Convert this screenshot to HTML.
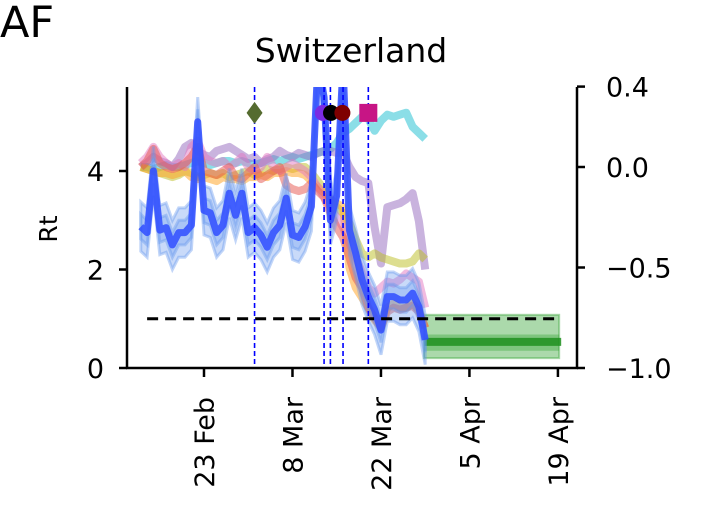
<!DOCTYPE html>
<html><head><meta charset="utf-8"><style>
html,body{margin:0;padding:0;background:#fff;}
svg{display:block;font-family:"DejaVu Sans","Liberation Sans",sans-serif;}
</style></head><body>
<svg id="chart" width="708" height="531" viewBox="0 0 708 531">
<defs><clipPath id="plotclip"><rect x="127" y="87" width="450" height="281"/></clipPath></defs>
<text x="0" y="37" font-size="43">AF</text>
<text x="351" y="62" font-size="33" text-anchor="middle">Switzerland</text>
<text transform="translate(57,229) rotate(-90)" font-size="25" text-anchor="middle">Rt</text>
<g id="marks" clip-path="url(#plotclip)"></g>
<g id="axes"></g>
</svg>
<script>
// days relative to 23 Feb
const startDay = -10;
const rtMean = [2.87,2.75,4.0,2.8,2.85,2.5,2.75,2.75,2.9,5.0,3.2,3.15,2.75,2.9,3.55,3.1,3.55,2.75,2.85,2.7,2.45,2.75,2.9,3.45,2.7,2.65,2.87,3.28,6.2,5.5,3.0,3.5,6.2,2.8,2.33,1.79,1.45,1.18,0.77,1.45,1.45,1.38,1.38,1.52,1.24,0.57];
const cyanSeries = [0.0,0.0,-0.01,0.0,0.01,0.0,0.0,0.01,0.02,0.03,0.02,0.01,0.02,0.03,0.03,0.02,0.03,0.02,0.01,0.02,0.03,0.04,0.03,0.04,0.05,0.04,0.05,0.06,0.07,0.08,0.09,0.12,0.17,0.19,0.22,0.25,0.24,0.18,0.23,0.26,0.25,0.26,0.27,0.20,0.17,0.14];
const purpleSeries = [0.0,0.02,0.05,0.03,0.02,0.0,0.04,0.1,0.12,0.08,0.06,0.05,0.08,0.09,0.1,0.08,0.06,0.04,0.05,0.02,0.04,0.05,0.08,0.06,0.05,0.07,0.06,0.05,0.07,0.08,0.08,0.07,0.07,0.0,-0.05,-0.07,-0.08,-0.3,-0.48,-0.2,-0.19,-0.18,-0.16,-0.13,-0.27,-0.51];
const yellowSeries = [0.0,-0.01,-0.02,-0.03,-0.04,-0.05,-0.04,-0.02,-0.03,-0.05,-0.04,-0.03,-0.04,-0.03,-0.05,-0.04,-0.03,-0.02,-0.04,-0.03,-0.01,-0.02,-0.01,0.0,-0.01,0.0,0.0,-0.03,-0.07,-0.11,-0.16,-0.2,-0.23,-0.28,-0.36,-0.43,-0.45,-0.43,-0.45,-0.46,-0.47,-0.48,-0.48,-0.47,-0.43,-0.46];
const orangeSeries = [0.0,-0.01,-0.02,-0.03,-0.03,-0.04,-0.03,-0.02,-0.05,-0.06,-0.05,-0.06,-0.07,-0.05,-0.06,-0.06,-0.07,-0.05,-0.05,-0.04,-0.05,-0.03,-0.03,-0.02,-0.03,-0.03,-0.04,-0.07,-0.1,-0.13,-0.16,-0.18,-0.2,-0.5,-0.6,-0.65,-0.7,-0.76,-0.8,-0.7,-0.68,-0.7,-0.7,-0.68,-0.71,-0.8];
const pinkSeries = [0.02,0.05,0.1,0.05,0.02,0.0,0.02,0.0,0.1,0.13,0.05,0.03,0.02,0.03,0.0,0.02,0.05,0.0,-0.02,0.0,0.05,0.0,-0.02,0.0,0.02,0.0,-0.02,-0.05,-0.1,-0.15,-0.2,-0.25,-0.3,-0.38,-0.45,-0.52,-0.6,-0.63,-0.6,-0.57,-0.58,-0.56,-0.53,-0.55,-0.57,-0.7];
const redSeries = [0.0,0.03,0.09,0.02,0.0,-0.01,0.0,0.02,0.05,0.1,-0.02,-0.03,-0.04,-0.02,0.0,-0.05,-0.06,-0.03,0.0,-0.06,-0.04,-0.02,0.0,-0.09,-0.11,-0.12,-0.11,-0.08,-0.12,-0.15,-0.23,-0.3,-0.35,-0.45,-0.55,-0.6,-0.7,-0.75,-0.8,-0.72,-0.7,-0.71,-0.7,-0.69,-0.72,-0.8];
const interventionDays = [8,19,20,22,26];
const markerDays = [8,18.8,20.1,21.9,26];
const markerColors = ['#556b2f','#7b2be2','#000000','#7f0000','#c71585'];
const markerValue = 5.18;
const forecastStart = 34.8, forecastEnd = 56.2;
const forecastMean = 0.53, forecastInner = [0.35,0.68], forecastOuter = [0.2,1.08];
const thresholdValue = 1;
const thresholdRange = [-9, 56];
const leftTicks = [0,2,4];
const rightTicks = [0.4,0.0,-0.5,-1.0];
const rightTickLabels = ['0.4','0.0','\u22120.5','\u22121.0'];
const xTickDays = [0,14,28,42,56];
const xTickLabels = ['23 Feb','8 Mar','22 Mar','5 Apr','19 Apr'];

const X = d => 204 + 6.32*d;
const YL = v => 368 - 49.25*v;
const YR = v => 167 - 201*v;
const NS = 'http://www.w3.org/2000/svg';
const marks = document.getElementById('marks');
const axes = document.getElementById('axes');
function mk(tag, attrs, parent){const e=document.createElementNS(NS,tag);for(const k in attrs)e.setAttribute(k,attrs[k]);parent.appendChild(e);return e;}
function pathOf(arr, yf){return arr.map((v,i)=>(i?'L':'M')+X(startDay+i).toFixed(1)+','+yf(v).toFixed(1)).join('');}
function bandOf(arr, yf, w){
  let up=arr.map((v,i)=>(i?'L':'M')+X(startDay+i).toFixed(1)+','+yf(v+w).toFixed(1)).join('');
  let dn=arr.slice().reverse().map((v,j)=>'L'+X(startDay+arr.length-1-j).toFixed(1)+','+yf(Math.max(0,v-w)).toFixed(1)).join('');
  return up+dn+'Z';
}
let e;
e=mk('rect',{x:X(forecastStart),y:YL(forecastOuter[1]),width:X(forecastEnd)-X(forecastStart),height:YL(forecastOuter[0])-YL(forecastOuter[1]),fill:'#2ca02c','fill-opacity':0.4,stroke:'#2ca02c','stroke-opacity':0.4,'stroke-width':2},marks);


e=mk('rect',{x:X(forecastStart),y:YL(forecastInner[1]),width:X(forecastEnd)-X(forecastStart),height:YL(forecastInner[0])-YL(forecastInner[1]),fill:'#2ca02c','fill-opacity':0.35},marks);


e=mk('line',{x1:X(forecastStart),x2:X(forecastEnd)+2,y1:YL(forecastMean),y2:YL(forecastMean),stroke:'#1f8f1f','stroke-width':8,'stroke-opacity':0.85},marks);


const rs=[['cyan',cyanSeries,'#17becf'],['purple',purpleSeries,'#9467bd'],['yellow',yellowSeries,'#bcbd22'],['orange',orangeSeries,'#ff9f1c'],['pink',pinkSeries,'#e377c2'],['red',redSeries,'#e5534b']];
rs.forEach(([n,arr,c])=>{
  const p=mk('path',{d:pathOf(arr,YR),fill:'none',stroke:c,'stroke-width':8,'stroke-opacity':0.5,'stroke-linejoin':'round'},marks);
  
  
});
e=mk('path',{d:bandOf(rtMean,YL,0.5),fill:'#6495ed','fill-opacity':0.35,stroke:'#6495ed','stroke-opacity':0.4,'stroke-width':3},marks);


e=mk('path',{d:bandOf(rtMean,YL,0.25),fill:'#6495ed','fill-opacity':0.3,stroke:'#6495ed','stroke-opacity':0.4,'stroke-width':3},marks);


e=mk('path',{d:pathOf(rtMean,YL),fill:'none',stroke:'#2f4cff','stroke-width':7,'stroke-opacity':0.85,'stroke-linejoin':'round'},marks);


e=mk('line',{x1:X(thresholdRange[0]),x2:X(thresholdRange[1]),y1:YL(thresholdValue),y2:YL(thresholdValue),stroke:'#000','stroke-width':3,'stroke-dasharray':'11,7'},marks);


interventionDays.forEach(d=>{
  const l=mk('line',{x1:X(d),x2:X(d),y1:87,y2:368,stroke:'#0000ff','stroke-width':1.6,'stroke-dasharray':'5,3'},marks);
  
  
});
markerDays.forEach((d,i)=>{
  const cx=X(d), cy=YL(markerValue);
  let m;
  if(i===0) m=mk('path',{d:`M${cx},${cy-11}L${cx+8},${cy}L${cx},${cy+11}L${cx-8},${cy}Z`,fill:markerColors[i]},marks);
  else if(i===4) m=mk('rect',{x:cx-9,y:cy-9,width:18,height:18,fill:markerColors[i]},marks);
  else m=mk('circle',{cx:cx,cy:cy,r:8,fill:markerColors[i]},marks);
  
  
});
const ax=(a)=>mk('line',Object.assign({stroke:'#000','stroke-width':2.5},a),axes);
e=ax({x1:127,x2:127,y1:87,y2:369});


e=ax({x1:577,x2:577,y1:87,y2:369});


e=ax({x1:126,x2:578,y1:368,y2:368});


leftTicks.forEach(v=>{
  const t=ax({x1:119,x2:127,y1:YL(v),y2:YL(v)});
  
  
  const l=mk('text',{x:104,y:YL(v)+10,'font-size':27,'text-anchor':'end'},axes);l.textContent=v;
  
  
});
rightTicks.forEach((v,i)=>{
  const t=ax({x1:577,x2:585,y1:YR(v),y2:YR(v)});
  
  
  const l=mk('text',{x:606,y:YR(v)+10,'font-size':27},axes);l.textContent=rightTickLabels[i];
  
  
});
xTickDays.forEach((d,i)=>{
  const t=ax({x1:X(d),x2:X(d),y1:368,y2:377});
  
  
  const l=mk('text',{transform:`translate(${X(d)+10},397) rotate(-90)`,'font-size':27,'text-anchor':'end'},axes);l.textContent=xTickLabels[i];
  
  
});
</script>
</body></html>
